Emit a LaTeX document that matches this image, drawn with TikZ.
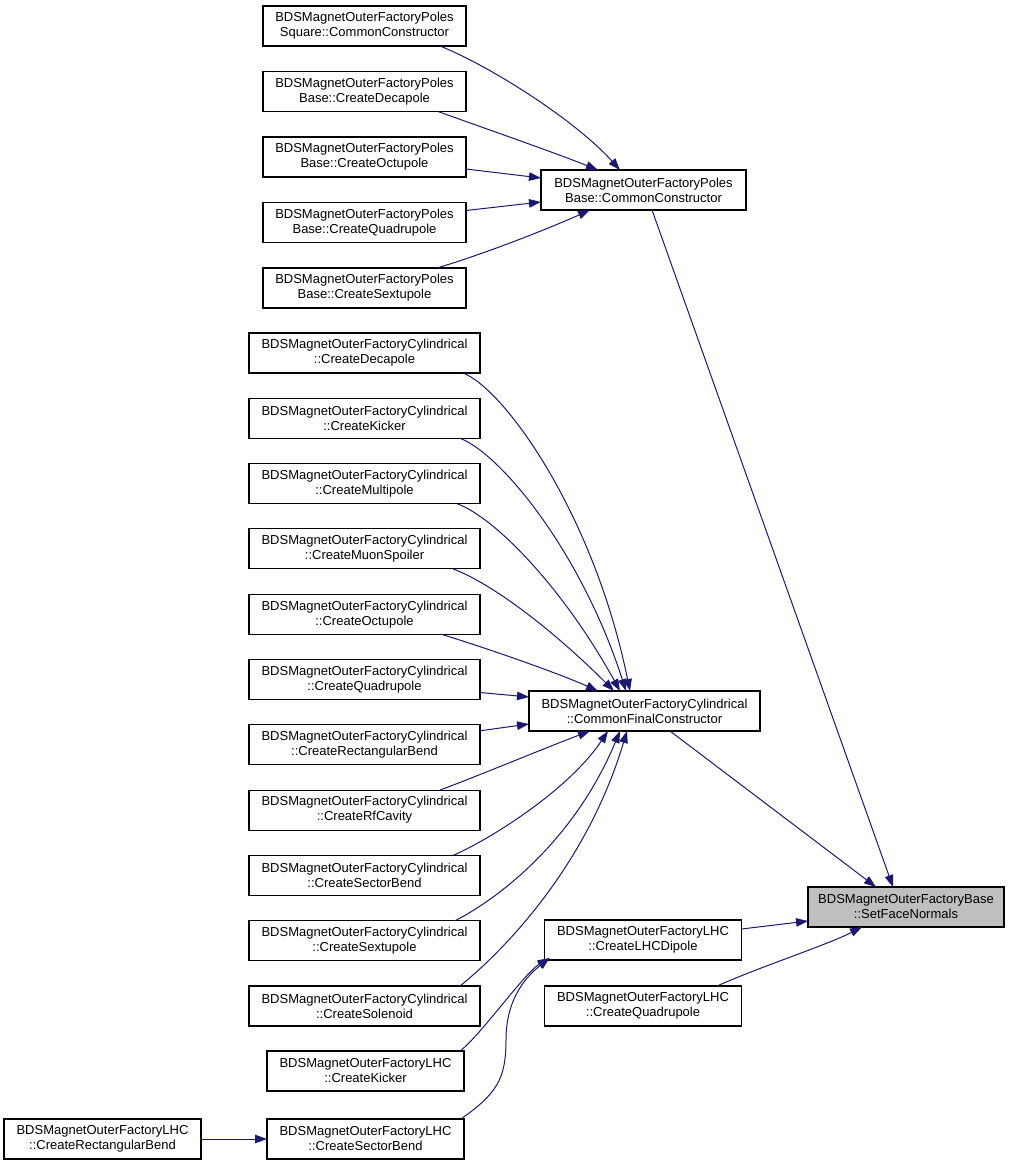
\documentclass[tikz,border=0pt]{standalone}
\usepackage{xcolor}
\usepackage{fontspec}
\setmainfont{Liberation Sans}
\usepackage{tikz}
\usetikzlibrary{positioning,arrows.meta}

\definecolor{callblue}{RGB}{25,25,112}
\definecolor{hlgray}{RGB}{191,191,191}

\begin{document}
\begin{tikzpicture}[
  x=1pt, y=-1pt,
  funcbox/.style={
    rectangle, draw=black, line width=1.1pt,
    fill=white, align=center, inner sep=2pt, outer sep=0pt,
    minimum height=40pt,
    font=\fontsize{13}{15}\selectfont
  },
  polesbox/.style={funcbox, minimum width=203pt},
  cylbox/.style={funcbox, minimum width=231pt},
  lhcbox/.style={funcbox, minimum width=197pt},
  hlbox/.style={funcbox, fill=hlgray, minimum width=196pt},
  calls/.style={-{Triangle[length=12pt,width=8.5pt,fill=callblue]}, line width=1pt, draw=callblue},
  node distance=25.5pt
]
\useasboundingbox (0,0) rectangle (1011,1163);

% Nodes
\node[polesbox] at (364.5,26) (psq) {BDSMagnetOuterFactoryPoles\\Square::CommonConstructor};
\node[polesbox, below=of psq]   (pdec)  {BDSMagnetOuterFactoryPoles\\Base::CreateDecapole};
\node[polesbox, below=of pdec]  (poct)  {BDSMagnetOuterFactoryPoles\\Base::CreateOctupole};
\node[polesbox, below=of poct]  (pquad) {BDSMagnetOuterFactoryPoles\\Base::CreateQuadrupole};
\node[polesbox, below=of pquad] (psext) {BDSMagnetOuterFactoryPoles\\Base::CreateSextupole};
\node[funcbox, minimum width=205pt] at (643.5,190) (pcc) {BDSMagnetOuterFactoryPoles\\Base::CommonConstructor};

\node[cylbox] at (364.5,353) (cdec) {BDSMagnetOuterFactoryCylindrical\\::CreateDecapole};
\node[cylbox, below=25.3pt of cdec]  (ckick) {BDSMagnetOuterFactoryCylindrical\\::CreateKicker};
\node[cylbox, below=25.3pt of ckick] (cmult) {BDSMagnetOuterFactoryCylindrical\\::CreateMultipole};
\node[cylbox, below=25.3pt of cmult] (cmuon) {BDSMagnetOuterFactoryCylindrical\\::CreateMuonSpoiler};
\node[cylbox, below=25.3pt of cmuon] (coct)  {BDSMagnetOuterFactoryCylindrical\\::CreateOctupole};
\node[cylbox, below=25.3pt of coct]  (cquad) {BDSMagnetOuterFactoryCylindrical\\::CreateQuadrupole};
\node[cylbox, below=25.3pt of cquad] (crect) {BDSMagnetOuterFactoryCylindrical\\::CreateRectangularBend};
\node[cylbox, below=25.3pt of crect] (crf)   {BDSMagnetOuterFactoryCylindrical\\::CreateRfCavity};
\node[cylbox, below=25.3pt of crf]   (csec)  {BDSMagnetOuterFactoryCylindrical\\::CreateSectorBend};
\node[cylbox, below=25.3pt of csec]  (csext) {BDSMagnetOuterFactoryCylindrical\\::CreateSextupole};
\node[cylbox, below=25.3pt of csext] (csol)  {BDSMagnetOuterFactoryCylindrical\\::CreateSolenoid};
\node[cylbox] at (644.5,711) (cfc) {BDSMagnetOuterFactoryCylindrical\\::CommonFinalConstructor};

\node[lhcbox] at (643,940) (ldip) {BDSMagnetOuterFactoryLHC\\::CreateLHCDipole};
\node[lhcbox, below=26pt of ldip] (lquad) {BDSMagnetOuterFactoryLHC\\::CreateQuadrupole};
\node[lhcbox] at (365.5,1071) (lkick) {BDSMagnetOuterFactoryLHC\\::CreateKicker};
\node[lhcbox, below=28pt of lkick] (lsec)  {BDSMagnetOuterFactoryLHC\\::CreateSectorBend};
\node[lhcbox, left=66pt of lsec]   (lrect) {BDSMagnetOuterFactoryLHC\\::CreateRectangularBend};

\node[hlbox] at (906,907) (sfn) {BDSMagnetOuterFactoryBase\\::SetFaceNormals};

% Poles callers -> CommonConstructor
\draw[calls] ([xshift=75.5pt]psq.south) .. controls +(50,20) and +(-45,-50) .. ([xshift=-23.5pt]pcc.north);
\draw[calls] ([xshift=73.5pt]pdec.south) .. controls +(50,18) and +(-45,-18) .. ([xshift=-45.5pt]pcc.north);
\draw[calls] ([yshift=-12pt]poct.east) -- ([yshift=12pt]pcc.west);
\draw[calls] ([yshift=12pt]pquad.east) -- ([yshift=-12pt]pcc.west);
\draw[calls] ([xshift=72.5pt]psext.north) .. controls +(50,-15) and +(-40,18) .. ([xshift=-53.5pt]pcc.south);

% Cylindrical callers -> CommonFinalConstructor
\draw[calls] ([xshift=98.5pt]cdec.south) .. controls +(40,15) and +(-37,-180) .. ([xshift=-14.5pt]cfc.north);
\draw[calls] ([xshift=95.5pt]ckick.south) .. controls +(40,15) and +(-45,-140) .. ([xshift=-18.5pt]cfc.north);
\draw[calls] ([xshift=92.5pt]cmult.south) .. controls +(40,15) and +(-55,-100) .. ([xshift=-24.5pt]cfc.north);
\draw[calls] ([xshift=88.5pt]cmuon.south) .. controls +(40,15) and +(-60,-60) .. ([xshift=-30.5pt]cfc.north);
\draw[calls] ([xshift=76.5pt]coct.south) .. controls +(40,12) and +(-40,-18) .. ([xshift=-46.5pt]cfc.north);
\draw[calls] ([yshift=-13pt]cquad.east) -- ([yshift=14pt]cfc.west);
\draw[calls] ([yshift=14pt]crect.east) -- ([yshift=-13pt]cfc.west);
\draw[calls] ([xshift=75.5pt]crf.north) .. controls +(40,-15) and +(-40,15) .. ([xshift=-54.5pt]cfc.south);
\draw[calls] ([xshift=88.5pt]csec.north) .. controls +(35,-15) and +(-40,60) .. ([xshift=-36.5pt]cfc.south);
\draw[calls] ([xshift=90.5pt]csext.north) .. controls +(30,-15) and +(-50,120) .. ([xshift=-24.5pt]cfc.south);
\draw[calls] ([xshift=95.5pt]csol.north) .. controls +(25,-20) and +(-45,150) .. ([xshift=-17.5pt]cfc.south);

% LHC callers
\draw[calls] ([xshift=94.5pt]lkick.north) .. controls +(20,-15) and +(-25,15) .. ([xshift=5pt,yshift=2pt]ldip.south west);
\draw[calls] ([xshift=95.5pt]lsec.north) .. controls +(35,-25) and +(0,40) .. (506,1040)
  .. controls +(0,-40) and +(-25,20) .. ([xshift=5pt,yshift=2pt]ldip.south west);
\draw[calls] (lrect) -- (lsec);

% callers of SetFaceNormals
\draw[calls] ([xshift=8.5pt]pcc.south) -- ([xshift=-13pt]sfn.north);
\draw[calls] ([xshift=25.5pt]cfc.south) -- ([xshift=-30pt]sfn.north);
\draw[calls] ([yshift=11pt]ldip.east) -- ([yshift=-14pt]sfn.west);
\draw[calls] ([xshift=74pt]lquad.north) .. controls +(45,-20) and +(-35,18) .. ([xshift=-44pt]sfn.south);

\end{tikzpicture}
\end{document}
